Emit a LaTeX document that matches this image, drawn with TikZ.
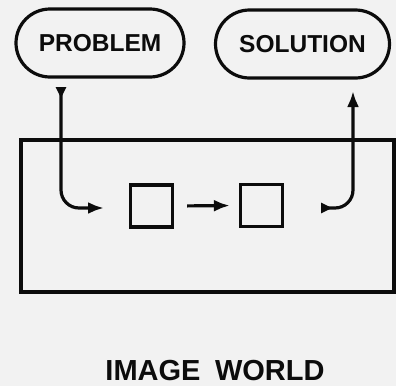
\documentclass[tikz,border=0pt]{standalone}
\usepackage{fontspec}
\setmainfont{Liberation Sans}
\usetikzlibrary{shapes.misc,arrows.meta}
\definecolor{paper}{RGB}{242,242,242}
\definecolor{ink}{RGB}{12,12,12}
\begin{document}
\begin{tikzpicture}[x=1pt,y=-1pt,
  line width=3.2pt, draw=ink,
  pill/.style={draw=ink, line width=3.2pt, rounded rectangle, inner sep=0pt,
    minimum height=68pt, font=\fontsize{24.5}{24.5}\selectfont\bfseries, text=ink},
  cell/.style={draw=ink, line width=3.2pt, rectangle, inner sep=0pt, minimum size=42pt},
  flow/.style={draw=ink, line width=3.2pt, rounded corners=18pt,
    -{Latex[length=16pt,width=12pt]}},
  tailed/.style={flow, {Triangle[reversed,length=11pt,width=10pt]}-{Latex[length=16pt,width=12pt]}}]
  % paper
  \fill[paper] (0,0) rectangle (396,386);
  \useasboundingbox (0,0) rectangle (396,386);

  % the two goal capsules
  \node[pill, minimum width=168pt] (problem) at (100,43) {PROBLEM};
  \node[pill, minimum width=174pt] (solution) at (302.5,44) {SOLUTION};

  % the world frame
  \node[draw=ink, line width=3.2pt, rectangle, inner sep=0pt, minimum width=373pt,
        minimum height=152pt] (world) at (207.5,216) {};

  % two states inside the world
  \node[cell] (s1) at (151.5,206) {};
  \node[cell] (s2) at (261.5,205.5) {};

  % free ends of the entry and exit paths
  \coordinate (inA) at (61,87);
  \coordinate (inB) at (104,208);
  \coordinate (outA) at (321,208);
  \coordinate (outB) at (353,91);

  \draw[tailed] (inA) |- (inB);
  \draw[flow, rounded corners=0pt, shorten <=13pt, shorten >=9pt] (s1.east) -- (s2.west);
  \draw[tailed] (outA) -| (outB);

  % caption
  \node[font=\fontsize{29}{29}\selectfont\bfseries, text=ink] (caption)
    at (215,371) {IMAGE\hspace{0.5em}WORLD};
\end{tikzpicture}
\end{document}
